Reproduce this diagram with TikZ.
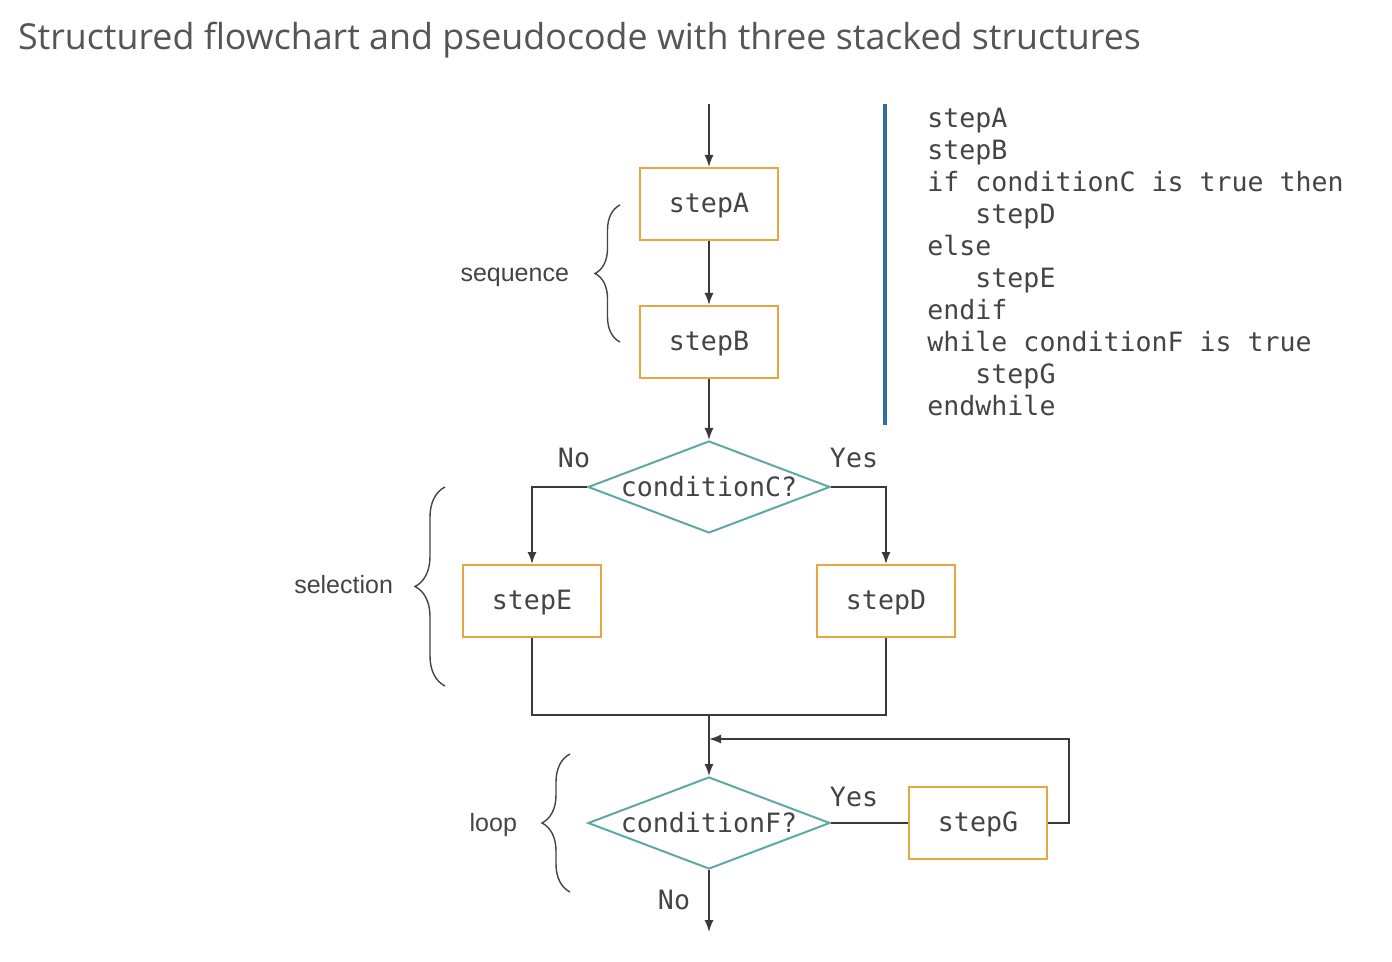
\documentclass[tikz,border=0pt]{standalone}
\usepackage{fontspec}
\setmainfont{Open Sans}
\setmonofont{DejaVu Sans Mono}
\newfontfamily\labelfont{Liberation Sans}
\usetikzlibrary{arrows.meta,shapes.geometric,decorations.pathreplacing}

\definecolor{boxorange}{HTML}{E9A53F}
\definecolor{diateal}{HTML}{5FA9A3}
\definecolor{linegray}{HTML}{3A3A3A}
\definecolor{textgray}{HTML}{444444}
\definecolor{titlegray}{HTML}{555555}
\definecolor{barblue}{HTML}{2F6F9F}

\begin{document}
\begin{tikzpicture}[x=0.5pt,y=-0.5pt,
stepbox/.style={draw=boxorange,line width=1pt,minimum width=69pt,minimum height=36pt,inner sep=0pt,text depth=1pt,font=\ttfamily\fontsize{13.3}{16}\selectfont,text=textgray},
decision/.style={diamond,draw=diateal,line width=1pt,inner sep=0pt,shape aspect=2.6,minimum width=121pt,minimum height=46pt,font=\ttfamily\fontsize{13.3}{16}\selectfont,text=textgray},
answer/.style={font=\ttfamily\fontsize{13.3}{16}\selectfont,text=textgray},
sidelabel/.style={anchor=east,font=\labelfont\fontsize{12.5}{14}\selectfont,text=textgray},
arrow/.style={-{Latex[length=6pt,width=4.5pt]},line width=0.75pt,draw=linegray},
link/.style={line width=0.75pt,draw=linegray},
bracket/.style={decorate,decoration={brace,amplitude=#1},draw=textgray,line width=0.7pt} ]

\useasboundingbox (0,0) rectangle (1392,962);

\node[anchor=west,font=\fontsize{17.9}{21}\selectfont,text=titlegray] (title) at (11,40) {Structured flowchart and pseudocode with three stacked structures};

% flowchart
\coordinate (entry) at (709,104);

\node[stepbox] (stepA) at (709,204) {stepA};

\node[stepbox] (stepB) at (709,342) {stepB};

\node[decision] (condC) at (709,487) {conditionC?};

\node[stepbox] (stepE) at (532,601) {stepE};

\node[stepbox] (stepD) at (886,601) {stepD};

\coordinate (merge) at (709,714);

\coordinate (loopin) at (709,739);

\node[decision] (condF) at (709,823) {conditionF?};

\node[stepbox] (stepG) at (978,823) {stepG};

\coordinate (exit) at (709,932);

\node[answer] (noC) at (574,458) {No};

\node[answer] (yesC) at (854,458) {Yes};

\node[answer] (yesF) at (854,797) {Yes};

\node[answer] (noF) at (674,900) {No};

\draw[arrow] (entry) -- (stepA);

\draw[arrow] (stepA) -- (stepB);

\draw[arrow] (stepB) -- (condC);

\draw[arrow] (condC.west) -| (stepE);

\draw[arrow] (condC.east) -| (stepD);

\draw[link] (stepE.south) -- ++(0,77) -| (stepD.south);

\draw[arrow] (merge) -- (condF);

\draw[link] (condF.east) -- (stepG.west);

\draw[arrow] (stepG.east) -- ++(21,0) |- (loopin);

\draw[arrow] (condF.south) -- (exit);

% structure braces
\draw[bracket=12.5pt] (620,342) -- (620,205);

\node[sidelabel] (seqlabel) at (576,277) {sequence};

\draw[bracket=15pt] (445,686) -- (445,487);

\node[sidelabel] (sellabel) at (400,585) {selection};

\draw[bracket=14pt] (570,892) -- (570,754);

\node[sidelabel] (looplabel) at (524,825) {loop};

% pseudocode
\draw[barblue,line width=2pt] (885,104) -- (885,425);

\node[anchor=north west,inner sep=0pt,align=left,font=\ttfamily\fontsize{13.3}{16}\selectfont,text=textgray] (code) at (927,108) {stepA\\
stepB\\
if conditionC is true then\\
\phantom{xxx}stepD\\
else\\
\phantom{xxx}stepE\\
endif\\
while conditionF is true\\
\phantom{xxx}stepG\\
endwhile};

\end{tikzpicture}
\end{document}
